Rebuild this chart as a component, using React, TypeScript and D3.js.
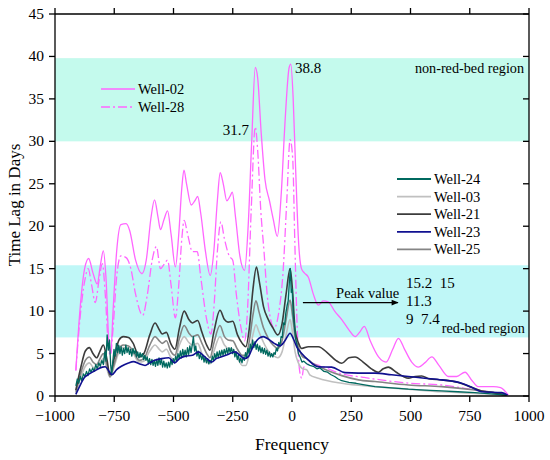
import * as d3 from 'd3';

// frequency / time lag (days) pairs
const well02: [number, number][] = [
  [-912, 3.0], [-895, 10], [-875, 15], [-858, 16.2], [-840, 14.5], [-822, 13.2], [-808, 15.5], [-796, 17.1],
  [-785, 14], [-772, 6], [-765, 5.0], [-755, 10], [-740, 17], [-722, 20.2], [-700, 20.3], [-685, 19.5],
  [-660, 16], [-633, 14.4], [-615, 16], [-595, 21], [-580, 23.1], [-565, 21], [-555, 19.6], [-540, 20.8],
  [-525, 21.8], [-510, 19], [-492, 15.2], [-478, 19], [-465, 24.5], [-456, 26.6], [-445, 25], [-425, 22.5],
  [-410, 23], [-398, 23.5], [-385, 21.5], [-365, 17], [-345, 14.2], [-330, 17], [-315, 23], [-303, 26.3],
  [-290, 25], [-275, 23], [-262, 23.5], [-252, 24], [-238, 21], [-220, 16.5], [-200, 14.8], [-185, 20],
  [-170, 30], [-155, 38.7], [-145, 37.5], [-130, 31], [-114, 25.5], [-95, 23], [-79, 20.8], [-62, 18.8],
  [-45, 24], [-30, 32], [-12, 38.7], [-5, 39.1], [5, 35], [15, 27], [28, 18], [40, 15], [52, 14.5],
  [69, 14], [90, 12], [111, 10.7], [132, 11.2], [153, 11.1], [180, 10], [210, 9], [240, 7.8], [266, 7],
  [285, 7.5], [305, 8.2], [330, 6.5], [365, 4.6], [397, 4.0], [425, 5.5], [449, 6.8], [475, 5.5],
  [505, 4.0], [534, 3.4], [560, 3.9], [590, 4.6], [620, 3.6], [660, 2.3], [695, 2.3], [730, 2.8],
  [760, 1.8], [785, 1.1], [850, 1.1], [880, 1.0], [913, 0.1],
];

const well28: [number, number][] = [
  [-912, 3.0], [-895, 9], [-875, 13.5], [-860, 15], [-845, 13], [-830, 11], [-815, 13.5], [-800, 15.6],
  [-788, 12], [-775, 6], [-766, 4.8], [-755, 8], [-740, 14], [-722, 16.5], [-700, 16.3], [-680, 15],
  [-660, 12], [-630, 9.5], [-610, 12], [-590, 16], [-572, 17.6], [-555, 15], [-540, 15.5], [-525, 16],
  [-510, 13], [-492, 9.2], [-478, 13], [-465, 18.5], [-455, 20.7], [-440, 19], [-420, 17], [-400, 17],
  [-385, 14], [-360, 9], [-342, 7.3], [-328, 11], [-315, 17], [-300, 20.5], [-285, 18.5], [-265, 16.5],
  [-250, 16], [-235, 12], [-215, 8], [-200, 6.5], [-188, 10], [-172, 22], [-155, 31.7], [-145, 29],
  [-132, 22], [-118, 17], [-105, 12], [-90, 9], [-75, 8], [-55, 10], [-38, 14.5], [-22, 23], [-8, 30.2],
  [3, 28], [12, 18], [22, 8], [32, 3], [41, 2.1], [50, 3.4], [80, 3.8], [125, 3.5], [210, 2.6],
  [300, 2.2], [400, 1.8], [500, 1.5], [632, 1.3], [750, 0.8], [850, 0.4], [905, 0.1],
];

const well21: [number, number][] = [
  [-912, 0.7], [-890, 3.5], [-872, 5.3], [-855, 5.7], [-840, 5.0], [-824, 4.5], [-810, 5.3], [-796, 6.0],
  [-782, 4.5], [-768, 2.5], [-750, 4.5], [-730, 6.6], [-712, 7.0], [-690, 6.9], [-670, 6.2], [-645, 4.6],
  [-625, 5.0], [-600, 7.2], [-578, 8.6], [-560, 7.8], [-548, 7.3], [-530, 7.5], [-512, 6.2], [-494, 5.5],
  [-475, 8.0], [-455, 10.0], [-435, 9.0], [-420, 8.6], [-398, 8.9], [-380, 7.5], [-360, 6.0], [-346, 5.4],
  [-330, 7.5], [-304, 10.1], [-285, 9.0], [-270, 8.7], [-250, 8.8], [-230, 7.2], [-210, 6.2], [-195, 5.8],
  [-180, 8], [-165, 12.5], [-150, 15.2], [-138, 13.5], [-120, 10.5], [-100, 9.0], [-80, 8.0], [-60, 7.2],
  [-42, 8.5], [-25, 12], [-8, 15.0], [2, 12.5], [13, 7.8], [28, 6.2], [41, 5.6], [69, 5.8], [111, 5.8],
  [153, 5.0], [185, 4.2], [210, 3.85], [240, 4.5], [266, 4.6], [300, 4.0], [335, 3.2], [364, 2.8],
  [385, 3.2], [406, 3.4], [440, 2.8], [470, 2.3], [491, 2.1], [520, 2.3], [547, 2.35], [580, 2.0],
  [632, 1.9], [702, 1.6], [750, 1.1], [800, 0.6], [850, 0.4], [905, 0.1],
];

const well25: [number, number][] = [
  [-912, 0.5], [-890, 2.8], [-872, 4.2], [-855, 4.6], [-840, 4.0], [-824, 3.7], [-810, 4.4], [-796, 5.0],
  [-782, 3.8], [-768, 2.3], [-750, 3.8], [-730, 5.6], [-712, 6.0], [-690, 5.9], [-670, 5.3], [-645, 4.2],
  [-625, 4.4], [-600, 6.0], [-578, 7.0], [-560, 6.5], [-548, 6.2], [-530, 6.5], [-512, 5.3], [-494, 4.8],
  [-475, 6.8], [-455, 8.3], [-435, 7.4], [-420, 7.0], [-398, 7.2], [-380, 6.2], [-360, 5.0], [-346, 4.5],
  [-330, 6.2], [-304, 8.3], [-285, 7.0], [-270, 6.6], [-250, 6.5], [-230, 5.5], [-210, 4.8], [-195, 4.8],
  [-180, 6.5], [-165, 9.5], [-152, 11.2], [-140, 10], [-120, 8], [-100, 6.8], [-80, 6.0], [-60, 5.6],
  [-42, 6.5], [-25, 9], [-8, 11.3], [2, 9.5], [13, 7.0], [27, 5.8], [45, 4.6], [62, 4.4], [85, 3.9],
  [111, 3.5], [150, 3.0], [210, 2.4], [280, 1.9], [350, 1.7], [491, 1.3], [632, 1.1], [772, 0.7],
  [850, 0.4], [905, 0.1],
];

const well03: [number, number][] = [
  [-912, 0.3], [-890, 2.3], [-872, 3.5], [-855, 3.9], [-840, 3.4], [-824, 3.2], [-810, 3.9], [-796, 4.4],
  [-782, 3.3], [-768, 2.2], [-750, 3.5], [-730, 5.2], [-712, 5.7], [-690, 5.6], [-670, 5.0], [-645, 4.0],
  [-625, 4.1], [-600, 5.3], [-578, 6.0], [-560, 5.5], [-548, 5.2], [-530, 5.5], [-512, 4.6], [-494, 4.3],
  [-475, 6.0], [-455, 7.0], [-435, 6.3], [-420, 6.0], [-398, 6.2], [-380, 5.0], [-360, 4.0], [-346, 3.8],
  [-330, 5.2], [-304, 7.0], [-285, 6.0], [-270, 5.6], [-250, 5.5], [-230, 4.5], [-210, 3.6], [-195, 3.6],
  [-180, 5], [-165, 7.2], [-152, 8.4], [-140, 7.6], [-120, 6.3], [-100, 5.3], [-80, 4.8], [-60, 4.5],
  [-42, 5.2], [-25, 7.2], [-8, 9.0], [2, 7.5], [13, 5.2], [27, 3.9], [45, 3.2], [62, 3.1], [75, 2.5],
  [111, 2.1], [210, 1.5], [350, 1.1], [491, 0.8], [632, 0.5], [772, 0.3], [880, 0.15], [905, 0.05],
];

const well23: [number, number][] = [
  [-912, 0.2], [-895, 1.2], [-875, 2.2], [-855, 2.6], [-830, 3.0], [-800, 3.4], [-788, 3.45], [-772, 2.9],
  [-760, 2.5], [-740, 3.1], [-720, 3.5], [-690, 3.9], [-669, 4.05], [-645, 3.8], [-620, 3.6], [-600, 3.9],
  [-580, 4.2], [-550, 4.4], [-520, 4.5], [-495, 3.9], [-475, 4.4], [-450, 4.7], [-420, 4.8], [-395, 5.2],
  [-375, 4.8], [-355, 4.3], [-338, 4.0], [-320, 4.4], [-300, 4.6], [-270, 4.9], [-240, 5.2], [-220, 4.8],
  [-200, 4.4], [-185, 4.6], [-165, 5.8], [-140, 6.8], [-121, 7.0], [-100, 6.7], [-75, 6.2], [-51, 5.9],
  [-30, 6.5], [-8, 7.4], [5, 6.8], [20, 5.8], [41, 5.0], [70, 4.2], [111, 3.45], [167, 3.4], [224, 2.75],
  [280, 2.7], [350, 2.7], [420, 2.5], [491, 2.3], [560, 2.1], [632, 1.9], [716, 1.5], [760, 1.0],
  [800, 0.5], [885, 0.4], [910, 0.1],
];

const well24: [number, number][] = [
  [-912, 1.2], [-906, 2.0], [-900, 1.5], [-893, 2.3], [-887, 1.8], [-880, 2.6], [-874, 2.3], [-867, 2.9],
  [-861, 2.4], [-854, 3.2], [-848, 2.8], [-841, 3.3], [-835, 2.9], [-828, 3.7], [-822, 3.2], [-815, 3.9],
  [-809, 3.5], [-802, 4.2], [-796, 3.7], [-790, 5.2], [-785, 4.1], [-780, 7.2], [-775, 5.4], [-770, 6.6],
  [-765, 3.6], [-761, 2.5], [-756, 4.1], [-751, 5.5], [-746, 4.7], [-741, 6.2], [-736, 5.1], [-731, 6.0],
  [-726, 5.0], [-721, 5.8], [-716, 4.8], [-711, 5.6], [-706, 5.0], [-701, 6.0], [-696, 5.1], [-691, 5.7],
  [-686, 4.9], [-681, 5.5], [-676, 4.7], [-671, 5.6], [-666, 5.0], [-661, 5.4], [-656, 4.6], [-651, 5.2],
  [-646, 4.5], [-641, 5.1], [-636, 4.6], [-631, 5.0], [-626, 4.3], [-621, 4.8], [-616, 4.2], [-611, 4.6],
  [-606, 3.8], [-601, 4.4], [-596, 3.7], [-591, 4.3], [-586, 3.6], [-581, 4.2], [-576, 3.5], [-571, 4.3],
  [-566, 3.6], [-561, 4.5], [-556, 3.7], [-551, 4.4], [-546, 3.4], [-541, 4.1], [-536, 3.4], [-531, 3.9],
  [-526, 3.3], [-521, 4.0], [-516, 3.4], [-511, 4.3], [-506, 3.7], [-501, 4.4], [-496, 3.9], [-491, 4.7],
  [-486, 4.1], [-481, 5.0], [-476, 4.4], [-471, 5.3], [-466, 4.5], [-461, 5.5], [-456, 4.7], [-451, 5.4],
  [-446, 4.6], [-441, 5.7], [-436, 4.9], [-431, 5.9], [-426, 5.1], [-421, 6.0], [-416, 7.0], [-411, 5.3],
  [-406, 5.9], [-401, 4.7], [-396, 5.3], [-391, 4.4], [-386, 5.0], [-381, 4.3], [-376, 4.8], [-371, 4.0],
  [-366, 4.6], [-361, 3.9], [-356, 4.4], [-351, 3.8], [-346, 4.2], [-341, 3.9], [-336, 4.7], [-331, 4.2],
  [-326, 5.0], [-321, 4.4], [-316, 5.2], [-311, 4.5], [-306, 5.3], [-301, 4.7], [-296, 5.4], [-291, 4.8],
  [-286, 5.5], [-281, 4.9], [-276, 5.6], [-271, 5.0], [-266, 5.7], [-261, 5.1], [-256, 5.7], [-251, 5.0],
  [-246, 5.5], [-241, 4.6], [-236, 5.2], [-231, 4.3], [-226, 4.8], [-221, 4.0], [-216, 4.5], [-211, 3.9],
  [-206, 4.6], [-201, 4.2], [-196, 5.1], [-191, 4.5], [-186, 5.6], [-181, 5.0], [-176, 6.1], [-171, 5.4],
  [-166, 6.6], [-161, 5.7], [-156, 6.4], [-151, 5.5], [-146, 6.1], [-141, 5.3], [-136, 5.9], [-131, 5.1],
  [-126, 5.7], [-121, 5.0], [-116, 5.6], [-111, 4.9], [-106, 5.4], [-101, 4.7], [-96, 5.2], [-91, 4.6],
  [-86, 5.0], [-81, 4.6], [-76, 5.1], [-71, 4.9], [-66, 5.6], [-61, 5.3], [-56, 6.3], [-51, 5.9],
  [-46, 7.0], [-41, 6.9], [-36, 8.6], [-31, 8.4], [-26, 9.8], [-21, 10.6], [-16, 11.2], [-11, 13.5],
  [-7, 15.0], [-3, 12.2], [1, 12.6], [5, 9.6], [10, 8.4], [15, 6.8], [20, 6.2], [27, 5.0], [34, 4.6],
  [42, 4.0], [50, 4.1], [62, 3.8], [75, 3.6], [90, 3.5], [105, 3.2], [118, 3.3], [135, 2.9], [150, 2.8],
  [165, 2.5], [180, 2.3], [195, 2.0], [210, 1.8], [240, 1.6], [270, 1.5], [300, 1.35], [350, 1.1],
  [420, 0.95], [491, 0.8], [560, 0.7], [632, 0.6], [700, 0.5], [772, 0.4], [840, 0.25], [905, 0.1],
];

const xTicks = [-1000, -750, -500, -250, 0, 250, 500, 750, 1000];
const yTicks = [0, 5, 10, 15, 20, 25, 30, 35, 40, 45];
const nonRedBand = [30, 39.8];
const redBand = [6.9, 15.4];

const width = 550;
const height = 460;
const margin = { top: 14, right: 21, bottom: 64, left: 55 };
const serif = "'Liberation Serif', 'Times New Roman', Tinos, FreeSerif";

const x = d3.scaleLinear().domain([-1000, 1000]).range([margin.left, width - margin.right]);
const y = d3.scaleLinear().domain([0, 45]).range([height - margin.bottom, margin.top]);

const smooth = d3
  .line<[number, number]>()
  .x((d) => x(d[0]))
  .y((d) => y(d[1]))
  .curve(d3.curveMonotoneX);
const jagged = d3
  .line<[number, number]>()
  .x((d) => x(d[0]))
  .y((d) => y(d[1]));

const pink = '#ff66ff';
const dashDot = '9,3,2,3';

const series = [
  { name: 'Well-02', data: well02, color: pink, dash: undefined, w: 1.3, gen: smooth },
  { name: 'Well-28', data: well28, color: pink, dash: dashDot, w: 1.3, gen: smooth },
  { name: 'Well-03', data: well03, color: '#c0c0c0', dash: undefined, w: 1.6, gen: smooth },
  { name: 'Well-25', data: well25, color: '#858585', dash: undefined, w: 1.6, gen: smooth },
  { name: 'Well-21', data: well21, color: '#3c3c3c', dash: undefined, w: 1.6, gen: smooth },
  { name: 'Well-24', data: well24, color: '#00695f', dash: undefined, w: 1.3, gen: jagged },
  { name: 'Well-23', data: well23, color: '#101090', dash: undefined, w: 1.6, gen: smooth },
];

const legendTop = ['Well-02', 'Well-28'];
const legendRight = ['Well-24', 'Well-03', 'Well-21', 'Well-23', 'Well-25'];

const fmt = (v: number) => (v < 0 ? '\u2212' + Math.abs(v) : String(v));

function Label(props: any) {
  const { children, style, ...rest } = props;
  return (
    <text fontFamily={serif} style={{ fontFamily: serif, ...style }} {...rest}>
      {children}
    </text>
  );
}

export default function App() {
  const x0 = margin.left;
  const x1 = width - margin.right;
  const y0 = height - margin.bottom;
  const y1 = margin.top;
  const byName = (n: string) => series.find((s) => s.name === n)!;

  return (
    <svg width={width} height={height} style={{ position: 'absolute', left: 0, top: 0, background: '#fff' }}>
      <defs>
        <clipPath id="plot">
          <rect x={x0} y={y1} width={x1 - x0} height={y0 - y1} />
        </clipPath>
        <marker id="arrow" viewBox="0 0 10 10" refX="9" refY="5" markerWidth="10" markerHeight="7" orient="auto" markerUnits="userSpaceOnUse">
          <path d="M0,1 L10,5 L0,9 z" fill="#000" />
        </marker>
      </defs>

      {/* shaded regions */}
      <rect x={x0} y={y(nonRedBand[1])} width={x1 - x0} height={y(nonRedBand[0]) - y(nonRedBand[1])} fill="#c4faed" />
      <rect x={x0} y={y(redBand[1])} width={x1 - x0} height={y(redBand[0]) - y(redBand[1])} fill="#bff7f7" />

      {/* lines */}
      <g clipPath="url(#plot)" fill="none">
        {series.map((s) => (
          <path
            key={s.name}
            d={s.gen(s.data) || ''}
            stroke={s.color}
            strokeWidth={s.w}
            strokeDasharray={s.dash}
            strokeLinejoin="round"
          />
        ))}
      </g>

      {/* frame + ticks */}
      <g stroke="#000" strokeWidth={1.3} fill="none">
        <line x1={x0} x2={x1} y1={y0} y2={y0} />
        <line x1={x0} x2={x1} y1={y1} y2={y1} />
        <line x1={x0} x2={x0} y1={y1} y2={y0} />
        <line x1={x1} x2={x1} y1={y1} y2={y0} />
        {xTicks.map((t) => (
          <g key={'xt' + t}>
            <line x1={x(t)} x2={x(t)} y1={y0} y2={y0 + 6} />
            <line x1={x(t)} x2={x(t)} y1={y1} y2={y1 - 6} />
          </g>
        ))}
        {yTicks.map((t) => (
          <g key={'yt' + t}>
            <line x1={x0 - 6} x2={x0} y1={y(t)} y2={y(t)} />
            <line x1={x1 - 6} x2={x1} y1={y(t)} y2={y(t)} />
          </g>
        ))}
      </g>

      {xTicks.map((t) => (
        <Label key={'xl' + t} x={x(t)} y={y0 + 25} fontSize={15.5} textAnchor="middle">
          {fmt(t)}
        </Label>
      ))}
      {yTicks.map((t) => (
        <Label key={'yl' + t} x={x0 - 11} y={y(t) + 5} fontSize={15.5} textAnchor="end">
          {t}
        </Label>
      ))}

      <Label x={(x0 + x1) / 2} y={450} fontSize={17.5} textAnchor="middle">
        Frequency
      </Label>
      <Label transform={`translate(20,${(y0 + y1) / 2}) rotate(-90)`} fontSize={17} textAnchor="middle">
        Time Lag in Days
      </Label>

      {/* annotations */}
      <Label x={x(13)} y={y(38.1)} fontSize={15}>38.8</Label>
      <Label x={x(-181)} y={y(30.7)} fontSize={15} textAnchor="end">31.7</Label>
      <Label x={x(979)} y={y(38.1)} fontSize={14.2} textAnchor="end">non-red-bed region</Label>
      <Label x={x(186)} y={y(11.55)} fontSize={14.5}>Peak value</Label>
      <line x1={x(46)} x2={x(447)} y1={y(11)} y2={y(11)} stroke="#000" strokeWidth={1.2} markerEnd="url(#arrow)" />
      <Label x={x(481)} y={y(12.7)} fontSize={15} style={{ whiteSpace: 'pre' }}>15.2  15</Label>
      <Label x={x(481)} y={y(10.55)} fontSize={15}>11.3</Label>
      <Label x={x(481)} y={y(8.5)} fontSize={15} style={{ whiteSpace: 'pre' }}>9  7.4</Label>
      <Label x={x(632)} y={y(7.4)} fontSize={14.2}>red-bed region</Label>

      {/* legends */}
      {legendTop.map((n, i) => {
        const s = byName(n);
        const ly = 89 + i * 18;
        return (
          <g key={n}>
            <line x1={101} x2={135} y1={ly} y2={ly} stroke={s.color} strokeWidth={s.w} strokeDasharray={s.dash} />
            <Label x={138} y={ly + 5} fontSize={14.5}>{n}</Label>
          </g>
        );
      })}
      {legendRight.map((n, i) => {
        const s = byName(n);
        const ly = 179 + i * 17.6;
        return (
          <g key={n}>
            <line x1={397} x2={431} y1={ly} y2={ly} stroke={s.color} strokeWidth={1.8} />
            <Label x={434} y={ly + 5} fontSize={14.5}>{n}</Label>
          </g>
        );
      })}
    </svg>
  );
}
